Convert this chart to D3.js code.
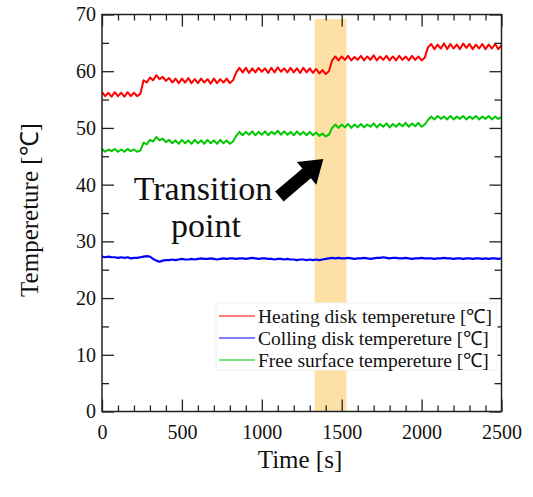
<!DOCTYPE html>
<html>
<head>
<meta charset="utf-8">
<script src="https://cdn.jsdelivr.net/npm/d3@7/dist/d3.min.js"></script>
<style>
  html, body { margin: 0; padding: 0; background: #fff; }
  svg { display: block; }
  text { font-family: "Liberation Serif", "Times New Roman", serif; fill: #111; }
</style>
</head>
<body>
<svg id="chart" width="533" height="497"></svg>
<script>
// Time axis samples [s]
const timeS = [0,20,40,60,80,100,120,140,160,180,200,220,240,260,280,300,320,340,360,380,400,420,440,460,480,500,520,540,560,580,600,620,640,660,680,700,720,740,760,780,800,820,840,860,880,900,920,940,960,980,1000,1020,1040,1060,1080,1100,1120,1140,1160,1180,1200,1220,1240,1260,1280,1300,1320,1340,1360,1380,1400,1420,1440,1460,1480,1500,1520,1540,1560,1580,1600,1620,1640,1660,1680,1700,1720,1740,1760,1780,1800,1820,1840,1860,1880,1900,1920,1940,1960,1980,2000,2020,2040,2060,2080,2100,2120,2140,2160,2180,2200,2220,2240,2260,2280,2300,2320,2340,2360,2380,2400,2420,2440,2460,2480,2500];

// Heating disk temperature [°C]
const heatingDisk = [
  56.3,55.6,56.2,55.5,56.3,55.6,56.2,55.5,56.3,55.6,56.2,55.6,
  56.0,
  58.4,58.0,58.9,58.4,59.3,58.6,59.0,58.3,
  58.8,58.0,58.7,57.9,58.7,58.0,58.8,57.9,58.6,57.9,58.7,58.0,58.6,57.8,58.7,57.9,58.6,58.0,58.7,57.9,58.4,
  59.8,60.6,
  59.8,60.6,59.7,60.5,59.8,60.6,59.9,60.5,59.7,60.6,59.8,60.7,59.9,60.5,59.8,60.6,59.8,60.5,59.7,60.6,59.8,60.5,59.7,60.4,59.6,60.2,59.5,
  60.0,
  61.9,62.6,
  61.9,62.6,62.0,62.7,61.9,62.5,62.0,62.7,61.9,62.6,62.0,62.8,61.9,62.6,62.0,62.7,61.9,62.6,61.9,62.7,62.0,62.6,61.9,62.7,62.0,
  62.6,61.9,62.4,
  64.2,
  64.8,63.9,64.7,64.0,64.9,63.9,64.8,64.0,64.7,63.9,64.9,64.1,64.8,63.9,64.7,64.0,64.8,63.9,64.7,64.0,64.8,63.9,64.6
];

// Cooling disk temperature [°C]
const coolingDisk = [
  27.3,27.2,27.3,27.2,27.2,27.1,27.2,27.1,27.2,27.0,27.1,27.1,27.2,
  27.3,27.4,27.3,26.9,26.6,26.4,26.6,26.7,
  26.7,26.8,26.7,26.8,26.9,26.8,26.8,26.9,26.8,26.9,27.0,26.9,26.9,27.0,26.9,26.8,26.9,27.0,26.9,27.0,27.0,
  26.9,27.0,27.0,26.9,27.0,27.1,27.0,26.9,27.0,27.0,26.9,26.9,26.8,26.9,26.9,26.8,26.9,26.8,26.8,26.7,
  26.8,26.8,26.7,26.8,26.7,26.8,26.7,26.8,26.9,27.0,
  27.1,27.0,27.1,27.0,27.0,27.1,27.0,26.9,27.0,27.0,27.1,27.0,26.9,27.0,27.1,27.1,27.2,27.1,27.0,27.1,
  27.1,27.0,27.0,27.1,27.0,26.9,27.0,27.0,27.1,27.0,27.0,27.0,26.9,27.0,27.0,27.1,27.0,27.0,26.9,27.0,
  27.0,26.9,27.0,27.0,26.9,27.0,27.0,26.9,27.0,26.9,27.0,27.0,26.9,27.0
];

// Free surface temperature [°C]
const freeSurface = [
  46.3,45.8,46.2,45.9,46.3,45.8,46.2,45.8,46.3,45.9,46.2,45.8,
  46.0,
  47.4,47.1,47.9,47.6,48.4,47.8,48.1,47.5,
  47.9,47.3,47.8,47.2,47.9,47.3,47.8,47.2,47.9,47.3,47.8,47.2,47.9,47.3,47.8,47.2,47.9,47.3,47.8,47.2,47.6,
  48.6,49.3,
  48.7,49.3,48.8,49.4,48.7,49.3,48.8,49.4,48.7,49.3,48.9,49.5,48.8,49.4,48.8,49.3,48.7,49.4,48.8,49.3,48.7,49.3,48.7,49.2,48.6,49.0,48.5,
  48.8,
  50.0,50.6,
  50.0,50.6,50.1,50.7,50.0,50.6,50.1,50.7,50.1,50.6,50.2,50.8,50.1,50.7,50.2,50.8,50.1,50.7,50.2,50.8,50.3,50.9,50.2,50.8,50.3,
  50.9,50.2,50.6,
  51.4,
  52.0,51.5,52.1,51.6,52.0,51.5,52.1,51.5,52.0,51.6,52.1,51.5,52.0,51.6,52.1,51.5,52.0,51.6,52.1,51.5,52.0,51.6,51.9
];

const seriesNames = [
  "Heating disk tempereture [\u2103]",
  "Colling disk tempereture [\u2103]",
  "Free surface tempereture [\u2103]"
];
const seriesColors = ["#ff0000", "#0000ff", "#00c800"];

const xMajorTicks = [0, 500, 1000, 1500, 2000, 2500];
const yMajorTicks = [0, 10, 20, 30, 40, 50, 60, 70];

// Highlighted transition window [s] and its vertical extent [°C]
const transitionWindow = [1330, 1530];
const transitionSpan = [0, 69.2];
// Annotation arrow: tail and tip in data units (time, temperature)
const arrowTail = [1110, 37.9];
const arrowTip = [1385, 44.5];

// ---- layout ----
const svg = d3.select("#chart");
const plotLeft = 102, plotRight = 501.5, plotTop = 14.5, plotBottom = 411.5;

const x = d3.scaleLinear().domain([0, 2500]).range([plotLeft, plotRight]);
const y = d3.scaleLinear().domain([0, 70]).range([plotBottom, plotTop]);

const xMinor = d3.range(0, 2501, 100).filter(v => v % 500 !== 0);
const yMinor = d3.range(5, 70, 10);

// transition band
svg.append("rect")
  .attr("x", x(transitionWindow[0]))
  .attr("width", x(transitionWindow[1]) - x(transitionWindow[0]))
  .attr("y", y(transitionSpan[1]))
  .attr("height", y(transitionSpan[0]) - y(transitionSpan[1]))
  .attr("fill", "#fde0a6");

// data lines
const allSeries = [heatingDisk, coolingDisk, freeSurface];
const line = d3.line().x((d, i) => x(timeS[i])).y(d => y(d));
allSeries.forEach((vals, k) => {
  svg.append("path")
    .datum(vals)
    .attr("d", line)
    .attr("fill", "none")
    .attr("stroke", seriesColors[k])
    .attr("stroke-width", k === 1 ? 2.2 : 2)
    .attr("stroke-linejoin", "round");
});

// axes: inward ticks on all four sides
function styleAxis(g) {
  g.select(".domain").remove();
  g.selectAll(".tick line").attr("stroke", "#222").attr("stroke-width", 1.3);
}
svg.append("g").attr("transform", `translate(0,${plotBottom})`)
  .call(d3.axisBottom(x).tickValues(xMajorTicks).tickSize(-12).tickPadding(10).tickFormat(d3.format("d")))
  .call(styleAxis)
  .call(g => g.selectAll("text").attr("font-size", 20).attr("dy", "0.85em").style("font-family", "'Liberation Serif', serif"));
svg.append("g").attr("transform", `translate(0,${plotBottom})`)
  .call(d3.axisBottom(x).tickValues(xMinor).tickSize(-6).tickFormat(""))
  .call(styleAxis);
svg.append("g").attr("transform", `translate(0,${plotTop})`)
  .call(d3.axisTop(x).tickValues(xMajorTicks).tickSize(-12).tickFormat(""))
  .call(styleAxis);
svg.append("g").attr("transform", `translate(0,${plotTop})`)
  .call(d3.axisTop(x).tickValues(xMinor).tickSize(-6).tickFormat(""))
  .call(styleAxis);

svg.append("g").attr("transform", `translate(${plotLeft},0)`)
  .call(d3.axisLeft(y).tickValues(yMajorTicks).tickSize(-12).tickPadding(6).tickFormat(d3.format("d")))
  .call(styleAxis)
  .call(g => g.selectAll("text").attr("font-size", 20).style("font-family", "'Liberation Serif', serif"));
svg.append("g").attr("transform", `translate(${plotLeft},0)`)
  .call(d3.axisLeft(y).tickValues(yMinor).tickSize(-7).tickFormat(""))
  .call(styleAxis);
svg.append("g").attr("transform", `translate(${plotRight},0)`)
  .call(d3.axisRight(y).tickValues(yMajorTicks).tickSize(-12).tickFormat(""))
  .call(styleAxis);
svg.append("g").attr("transform", `translate(${plotRight},0)`)
  .call(d3.axisRight(y).tickValues(yMinor).tickSize(-7).tickFormat(""))
  .call(styleAxis);

// frame
svg.append("rect")
  .attr("x", plotLeft).attr("y", plotTop)
  .attr("width", plotRight - plotLeft).attr("height", plotBottom - plotTop)
  .attr("fill", "none").attr("stroke", "#222").attr("stroke-width", 1.5);

// legend
const legX = 216, legY = 303, legW = 281, legH = 67, rowH = 22;
const leg = svg.append("g");
leg.append("rect")
  .attr("x", legX).attr("y", legY).attr("width", legW).attr("height", legH)
  .attr("fill", "#fff").attr("stroke", "#f2f2f2");
seriesNames.forEach((name, k) => {
  const cy = legY + 13 + k * rowH;
  leg.append("line")
    .attr("x1", legX + 3).attr("x2", legX + 39)
    .attr("y1", cy).attr("y2", cy)
    .attr("stroke", seriesColors[k]).attr("stroke-width", 1.2);
  leg.append("text")
    .attr("x", legX + 42).attr("y", cy)
    .attr("dy", "0.35em")
    .attr("font-size", 19.5)
    .text(name);
});

// annotation arrow (block arrow built along the tail→tip direction)
const tx = x(arrowTail[0]), ty = y(arrowTail[1]);
const hx = x(arrowTip[0]), hy = y(arrowTip[1]);
const len = Math.hypot(hx - tx, hy - ty);
const ux = (hx - tx) / len, uy = (hy - ty) / len;
const px = -uy, py = ux;
const shaftW = 13, headW = 30, headL = 22;
const bx = hx - ux * headL, by = hy - uy * headL;
const pts = [
  [tx + px * shaftW / 2, ty + py * shaftW / 2],
  [bx + px * shaftW / 2, by + py * shaftW / 2],
  [bx + px * headW / 2, by + py * headW / 2],
  [hx, hy],
  [bx - px * headW / 2, by - py * headW / 2],
  [bx - px * shaftW / 2, by - py * shaftW / 2],
  [tx - px * shaftW / 2, ty - py * shaftW / 2]
];
svg.append("path").attr("d", d3.line()(pts) + "Z").attr("fill", "#000");

svg.append("text").attr("x", 203).attr("y", 200).attr("text-anchor", "middle")
  .attr("font-size", 34).text("Transition");
svg.append("text").attr("x", 206).attr("y", 237).attr("text-anchor", "middle")
  .attr("font-size", 34).text("point");

// axis titles
svg.append("text")
  .attr("transform", "translate(38,210) rotate(-90)")
  .attr("text-anchor", "middle")
  .attr("font-size", 25)
  .text("Tempereture [\u2103]");
svg.append("text")
  .attr("x", 300).attr("y", 468)
  .attr("text-anchor", "middle")
  .attr("font-size", 25)
  .text("Time [s]");
</script>
</body>
</html>
